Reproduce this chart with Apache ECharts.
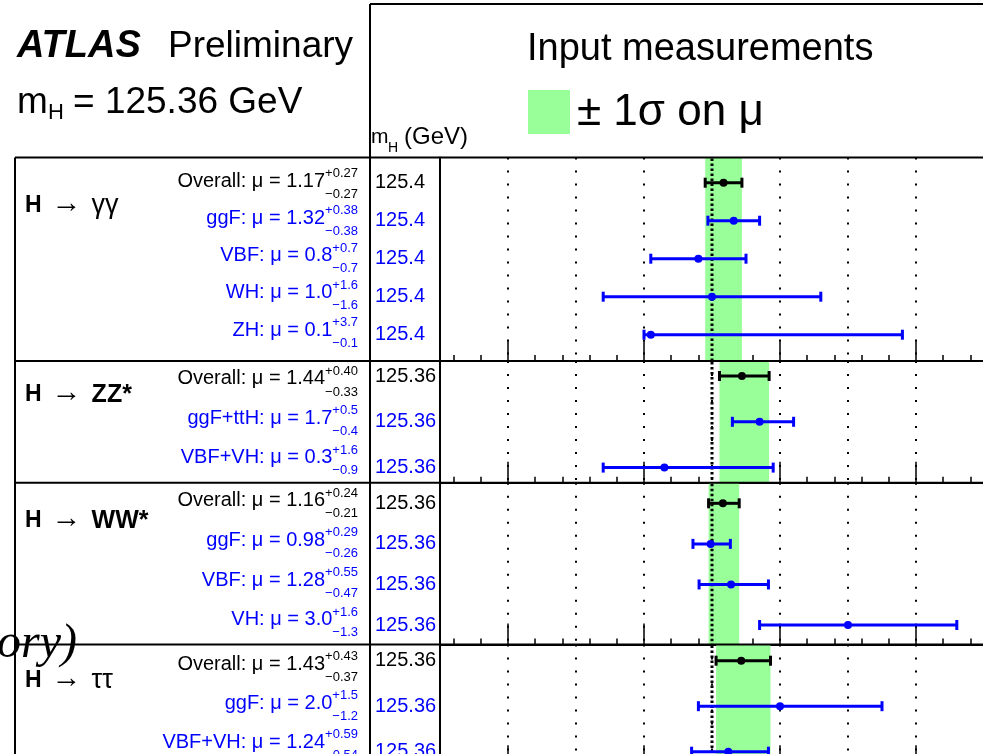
<!DOCTYPE html>
<html><head><meta charset="utf-8">
<script src="https://cdn.jsdelivr.net/npm/echarts@6/dist/echarts.min.js"></script>
<style>html,body{margin:0;padding:0;background:#fff;overflow:hidden}#c{width:983px;height:754px}</style>
</head><body><div id="c"></div>
<script>
// ---------------- data ----------------
const channelNames = ['γγ', 'ZZ*', 'WW*', 'ττ'];
const channelBold = [false, true, true, false];

const prodGG = ['Overall', 'ggF', 'VBF', 'WH', 'ZH'];
const muGG = ['1.17', '1.32', '0.8', '1.0', '0.1'];
const upGG = ['0.27', '0.38', '0.7', '1.6', '3.7'];
const dnGG = ['0.27', '0.38', '0.7', '1.6', '0.1'];
const massGG = ['125.4', '125.4', '125.4', '125.4', '125.4'];

const prodZZ = ['Overall', 'ggF+ttH', 'VBF+VH'];
const muZZ = ['1.44', '1.7', '0.3'];
const upZZ = ['0.40', '0.5', '1.6'];
const dnZZ = ['0.33', '0.4', '0.9'];
const massZZ = ['125.36', '125.36', '125.36'];

const prodWW = ['Overall', 'ggF', 'VBF', 'VH'];
const muWW = ['1.16', '0.98', '1.28', '3.0'];
const upWW = ['0.24', '0.29', '0.55', '1.6'];
const dnWW = ['0.21', '0.26', '0.47', '1.3'];
const massWW = ['125.36', '125.36', '125.36', '125.36'];

const prodTT = ['Overall', 'ggF', 'VBF+VH'];
const muTT = ['1.43', '2.0', '1.24'];
const upTT = ['0.43', '1.5', '0.59'];
const dnTT = ['0.37', '1.2', '0.54'];
const massTT = ['125.36', '125.36', '125.36'];

const smMu = 1;
const majorTicks = [-2, 0, 2, 4];
const minorTicks = [-2.8, -2.4, -1.6, -1.2, -0.8, -0.4, 0.4, 0.8, 1.2, 1.6, 2.4, 2.8, 3.2, 3.6, 4.4, 4.8];
const muMin = -3, muMax = 5;

// ---------------- layout ----------------
const FONT = '"Liberation Sans", Arial, Helvetica, sans-serif';
const BLUE = '#0000ff';
const GREEN = '#99ff99';
const channels = [
  {prod: prodGG, mu: muGG, up: upGG, dn: dnGG, mass: massGG},
  {prod: prodZZ, mu: muZZ, up: upZZ, dn: dnZZ, mass: massZZ},
  {prod: prodWW, mu: muWW, up: upWW, dn: dnWW, mass: massWW},
  {prod: prodTT, mu: muTT, up: upTT, dn: dnTT, mass: massTT}
];
const pads = [
  {top: 157.5, height: 203.5, rowMin: -0.663, rowMax: 4.692, txtMin: -0.630, txtMax: 4.826, titleY: 206},
  {top: 361,   height: 121.7, rowMin: -0.3275, rowMax: 2.330, txtMin: -0.457, txtMax: 2.636, titleY: 395},
  {top: 482.7, height: 161.8, rowMin: -0.508, rowMax: 3.480, txtMin: -0.453, txtMax: 3.623, titleY: 521},
  {top: 644.5, height: 121.7, rowMin: -0.356, rowMax: 2.319, txtMin: -0.498, txtMax: 2.611, titleY: 681}
];

const grid = [], xAxis = [], yAxis = [], series = [];
channels.forEach((ch, i) => {
  const p = pads[i];
  grid.push({left: 440, right: -1, top: p.top, height: p.height, containLabel: false, outerBoundsMode: 'none'});
  const rows = ch.prod.map((_, k) => k);
  // main axis: major ticks
  xAxis.push({type: 'value', gridIndex: i, position: 'bottom', min: muMin, max: muMax,
    axisLine: {show: true, onZero: false, lineStyle: {color: '#000', width: 2}},
    axisTick: {show: true, inside: true, length: 21, customValues: majorTicks, lineStyle: {color: '#000', width: 1.5}},
    axisLabel: {show: false}, splitLine: {show: false}});
  // minor ticks
  xAxis.push({type: 'value', gridIndex: i, position: 'bottom', min: muMin, max: muMax,
    axisLine: {show: false, onZero: false},
    axisTick: {show: true, inside: true, length: 6, customValues: minorTicks, lineStyle: {color: '#000', width: 1.5}},
    axisLabel: {show: false}, splitLine: {show: false}});
  // dotted grid lines
  xAxis.push({type: 'value', gridIndex: i, position: 'bottom', min: muMin, max: muMax, interval: 1,
    axisLine: {show: false, onZero: false}, axisTick: {show: false}, axisLabel: {show: false},
    splitLine: {show: true, lineStyle: {color: '#000', width: 2, type: [2, 11]}}});
  // row axis with mass labels
  yAxis.push({type: 'value', gridIndex: i, position: 'left', inverse: true, min: p.rowMin, max: p.rowMax,
    axisLine: {show: true, onZero: false, lineStyle: {color: '#000', width: 2}},
    axisTick: {show: false}, splitLine: {show: false},
    axisLabel: {show: true, customValues: rows, margin: 65, align: 'left',
      formatter: v => { const k = Math.round(v); return '{' + (k === 0 ? 'k' : 'b') + '|' + ch.mass[k] + '}'; },
      rich: {k: {color: '#000', fontSize: 20, fontFamily: FONT}, b: {color: BLUE, fontSize: 20, fontFamily: FONT}}}});
  // description axis
  yAxis.push({type: 'value', gridIndex: i, position: 'left', inverse: true, min: p.txtMin, max: p.txtMax,
    axisLine: {show: false, onZero: false}, axisTick: {show: false}, splitLine: {show: false},
    axisLabel: {show: true, customValues: rows, margin: 82, align: 'right', padding: [11, 0, 0, 0],
      formatter: v => {
        const k = Math.round(v), c = k === 0 ? 'k' : 'b';
        return '{' + c + 'p|+' + ch.up[k] + '}\n{' + c + 'm|' + ch.prod[k] + ': μ = ' + ch.mu[k] + '}{g|+' + ch.up[k] + '}\n{' + c + 'd|−' + ch.dn[k] + '}';
      },
      rich: {
        km: {color: '#000', fontSize: 20, lineHeight: 10, fontFamily: FONT},
        bm: {color: BLUE, fontSize: 20, lineHeight: 10, fontFamily: FONT},
        kp: {color: '#000', fontSize: 13, lineHeight: 5, fontFamily: FONT},
        bp: {color: BLUE, fontSize: 13, lineHeight: 5, fontFamily: FONT},
        kd: {color: '#000', fontSize: 13, lineHeight: 16, fontFamily: FONT},
        bd: {color: BLUE, fontSize: 13, lineHeight: 16, fontFamily: FONT},
        g: {color: 'rgba(0,0,0,0)', fontSize: 13, lineHeight: 5, fontFamily: FONT}
      }}});
  const xi = i * 3, yi = i * 2;
  const lo = parseFloat(ch.mu[0]) - parseFloat(ch.dn[0]);
  const hi = parseFloat(ch.mu[0]) + parseFloat(ch.up[0]);
  // green ±1σ band of the overall measurement
  series.push({type: 'custom', xAxisIndex: xi, yAxisIndex: yi, z: 1, silent: true, clip: true,
    data: [[lo, hi, 0]], encode: {x: [0, 1], y: 2},
    renderItem: (params, api) => {
      const cs = params.coordSys;
      const x1 = api.coord([api.value(0), 0])[0], x2 = api.coord([api.value(1), 0])[0];
      return {type: 'rect', shape: {x: x1, y: cs.y, width: x2 - x1, height: cs.height}, style: {fill: GREEN}};
    }});
  // SM line
  series.push({type: 'custom', xAxisIndex: xi, yAxisIndex: yi, z: 2, silent: true, clip: false,
    data: [[smMu, 0]], encode: {x: 0, y: 1},
    renderItem: (params, api) => {
      const cs = params.coordSys;
      const x = api.coord([api.value(0), 0])[0];
      return {type: 'line', shape: {x1: x, y1: cs.y + 1, x2: x, y2: cs.y + cs.height}, style: {stroke: '#000', lineWidth: 3, lineDash: [2.5, 2.5]}};
    }});
  // error bars
  series.push({type: 'custom', xAxisIndex: xi, yAxisIndex: yi, z: 3, silent: true, clip: false,
    data: ch.mu.map((m, k) => [parseFloat(m), parseFloat(ch.up[k]), parseFloat(ch.dn[k]), k, k === 0 ? 1 : 0]),
    encode: {x: 0, y: 3},
    renderItem: (params, api) => {
      const mu = api.value(0), up = api.value(1), dn = api.value(2), row = api.value(3);
      const col = api.value(4) ? '#000' : BLUE;
      const c = api.coord([mu, row]), l = api.coord([mu - dn, row]), r = api.coord([mu + up, row]);
      const st = {stroke: col, lineWidth: 3};
      return {type: 'group', children: [
        {type: 'line', shape: {x1: l[0], y1: l[1], x2: r[0], y2: r[1]}, style: st},
        {type: 'line', shape: {x1: l[0], y1: l[1] - 5, x2: l[0], y2: l[1] + 5}, style: st},
        {type: 'line', shape: {x1: r[0], y1: r[1] - 5, x2: r[0], y2: r[1] + 5}, style: st},
        {type: 'circle', shape: {cx: c[0], cy: c[1], r: 4}, style: {fill: col}}
      ]};
    }});
});

// ---------------- table frame & texts ----------------
const graphic = [];
const L = (x1, y1, x2, y2) => graphic.push({type: 'line', z: 100, shape: {x1, y1, x2, y2}, style: {stroke: '#000', lineWidth: 2}});
L(370, 4, 983, 4);
L(370, 4, 370, 754);
L(15, 157.5, 15, 754);
pads.forEach(p => L(15, p.top, 983, p.top));
const T = (text, x, y, font, extra) => graphic.push(Object.assign({type: 'text', z: 100, style: Object.assign({text, x, y, font, fill: '#000', textVerticalAlign: 'middle', verticalAlign: 'middle'}, extra || {})}));
T('ATLAS', 17, 47, 'italic bold 38px ' + FONT);
T('Preliminary', 168, 47, '37px ' + FONT);
T('m', 17, 103, '37px ' + FONT);
T('H', 48, 113, '22px ' + FONT);
T('= 125.36 GeV', 73, 103, '37px ' + FONT);
T('Input measurements', 527, 50, '38px ' + FONT);
graphic.push({type: 'rect', z: 100, shape: {x: 528, y: 90, width: 42, height: 44}, style: {fill: GREEN}});
T('± 1σ on μ', 577, 113, '44px ' + FONT);
T('m', 371, 137, '21px ' + FONT);
T('H', 388, 148, '14px ' + FONT);
T('(GeV)', 404, 137, '24px ' + FONT);
T('ory)', -3, 644, 'italic 48px "Liberation Serif", "Times New Roman", serif');
channelNames.forEach((nm, i) => {
  graphic.push({type: 'text', z: 100, style: {
    text: '{h|H}{a|→}{' + (channelBold[i] ? 'c' : 'r') + '|' + nm + '}',
    x: 25, y: pads[i].titleY, textVerticalAlign: 'middle', verticalAlign: 'middle',
    rich: {
      h: {fontFamily: FONT, fontWeight: 'bold', fontSize: 23, fill: '#000'},
      a: {fontFamily: FONT, fontSize: 30, fill: '#000', padding: [0, 10, 4, 10]},
      c: {fontFamily: FONT, fontWeight: 'bold', fontSize: 25, fill: '#000'},
      r: {fontFamily: FONT, fontSize: 27, fill: '#000'}
    }}});
});

const chart = echarts.init(document.getElementById('c'), null, {renderer: 'canvas'});
chart.setOption({animation: false, backgroundColor: '#fff', grid, xAxis, yAxis, series, graphic});
</script></body></html>
